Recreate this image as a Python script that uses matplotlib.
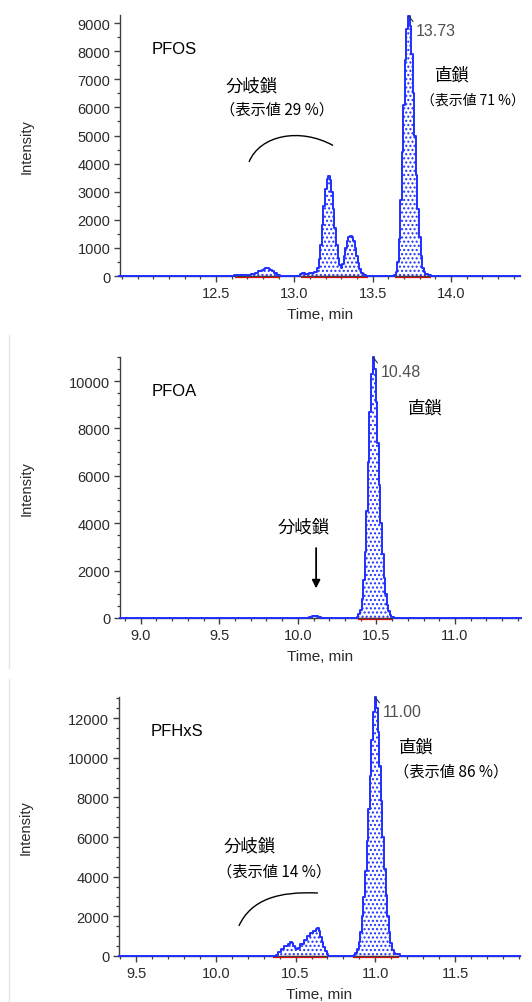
import matplotlib
matplotlib.use("Agg")
import matplotlib.pyplot as plt
from matplotlib.path import Path
from matplotlib.patches import PathPatch
from matplotlib.lines import Line2D
from matplotlib.ticker import MultipleLocator
from matplotlib.transforms import ScaledTranslation

plt.rcParams['font.family'] = ['Liberation Sans', 'Noto Sans CJK JP', 'DejaVu Sans']
plt.rcParams['hatch.color'] = '#1f2fff'
plt.rcParams['hatch.linewidth'] = 1.0

JP = ['Noto Sans CJK JP', 'Liberation Sans']

# ---- PFOS trace (time, min / intensity)
pfos_t = [11.88, 12.61, 12.62, 12.66, 12.70, 12.74, 12.76, 12.78, 12.80, 12.81, 12.82,
          12.83, 12.84, 12.85, 12.86, 12.88, 12.90, 12.92, 13.03, 13.04, 13.06, 13.08,
          13.10, 13.12, 13.13, 13.14, 13.15, 13.16, 13.17, 13.18, 13.19, 13.20, 13.21,
          13.22, 13.23, 13.24, 13.25, 13.26, 13.27, 13.28, 13.29, 13.30, 13.31, 13.32,
          13.33, 13.34, 13.35, 13.36, 13.37, 13.38, 13.39, 13.40, 13.41, 13.42, 13.43,
          13.44, 13.45, 13.46, 13.63, 13.64, 13.65, 13.66, 13.67, 13.68, 13.69, 13.70,
          13.71, 13.72, 13.73, 13.74, 13.75, 13.76, 13.77, 13.78, 13.79, 13.80, 13.81,
          13.82, 13.83, 13.84, 13.86, 13.88, 14.44]
pfos_i = [0, 0, 40, 50, 50, 60, 110, 180, 230, 260, 275,
          270, 250, 220, 170, 100, 40, 0, 0, 60, 90, 80,
          100, 120, 150, 160, 300, 600, 1100, 1800, 2500, 3100, 3450,
          3550, 3400, 3000, 2400, 1700, 1100, 650, 380, 300, 420, 700,
          1000, 1250, 1380, 1420, 1400, 1250, 1000, 700, 450, 250, 120,
          60, 20, 0, 0, 30, 150, 500, 1300, 2700, 4400, 6100,
          7700, 8800, 9250, 8900, 7900, 6500, 5000, 3600, 2400, 1400, 700,
          300, 130, 70, 40, 0, 0]
pfos_base = [(12.62, 12.91), (13.04, 13.47), (13.64, 13.87)]

# ---- PFOA trace
pfoa_t = [8.87, 10.06, 10.08, 10.10, 10.12, 10.14, 10.16, 10.37, 10.38, 10.39, 10.40,
          10.41, 10.42, 10.43, 10.44, 10.45, 10.46, 10.47, 10.48, 10.49, 10.50, 10.51,
          10.52, 10.53, 10.54, 10.55, 10.56, 10.57, 10.58, 10.59, 10.60, 10.62, 11.42]
pfoa_i = [0, 0, 50, 70, 70, 50, 0, 0, 60, 150, 350,
          800, 1600, 2800, 4500, 6600, 8700, 10300, 11000, 10500, 9100, 7400,
          5600, 4000, 2700, 1700, 1000, 550, 280, 120, 40, 0, 0]
pfoa_base = [(10.38, 10.60)]

# ---- PFHxS trace
pfhxs_t = [9.39, 10.37, 10.38, 10.40, 10.42, 10.44, 10.46, 10.47, 10.48, 10.49, 10.50,
           10.51, 10.52, 10.54, 10.56, 10.58, 10.60, 10.62, 10.63, 10.64, 10.65, 10.66,
           10.67, 10.68, 10.69, 10.70, 10.71, 10.86, 10.87, 10.88, 10.89, 10.90, 10.91,
           10.92, 10.93, 10.94, 10.95, 10.96, 10.97, 10.98, 10.99, 11.00, 11.01, 11.02,
           11.03, 11.04, 11.05, 11.06, 11.07, 11.08, 11.09, 11.10, 11.11, 11.12, 11.13,
           11.14, 11.15, 11.16, 11.91]
pfhxs_i = [0, 0, 60, 200, 350, 480, 620, 680, 640, 520, 420,
           350, 420, 600, 800, 1000, 1150, 1280, 1350, 1400, 1250, 950,
           700, 450, 250, 100, 0, 0, 60, 150, 350, 700, 1200,
           2000, 3000, 4300, 5800, 7400, 9100, 10900, 12300, 13050, 12500, 11300,
           9600, 7800, 6000, 4400, 3100, 2000, 1200, 650, 320, 150, 90,
           90, 80, 0, 0]
pfhxs_base = [(10.36, 10.70), (10.86, 11.15)]

panels = [
    dict(t=pfos_t, y=pfos_i, base=pfos_base, xlim=(11.887, 14.44), ylim=9290,
         xticks=(12.5, 14.0), ystep=1000, rect=[0.2256, 0.7238, 0.752, 0.2603],
         name='PFOS', peak=13.73, peak_lbl='13.73'),
    dict(t=pfoa_t, y=pfoa_i, base=pfoa_base, xlim=(8.868, 11.414), ylim=11020,
         xticks=(9.0, 11.0), ystep=2000, rect=[0.2256, 0.3829, 0.752, 0.2602],
         name='PFOA', peak=10.48, peak_lbl='10.48'),
    dict(t=pfhxs_t, y=pfhxs_i, base=pfhxs_base, xlim=(9.393, 11.907), ylim=13070,
         xticks=(9.5, 11.5), ystep=2000, rect=[0.2237, 0.0459, 0.7537, 0.2582],
         name='PFHxS', peak=11.00, peak_lbl='11.00'),
]

fig = plt.figure(figsize=(5.32, 10.03), dpi=100)
blue = '#1f2fff'
tickc = '#2a2a2a'
axes = []
for p in panels:
    ax = fig.add_axes(p['rect'])
    axes.append(ax)
    t, y = p['t'], p['y']
    ax.fill_between(t, y, 0, step='mid', facecolor='white', edgecolor=blue,
                    hatch='....', linewidth=0, zorder=1)
    ax.plot(t, y, drawstyle='steps-mid', color=blue, lw=1.4, zorder=3, clip_on=False)
    off = ax.transData + ScaledTranslation(0, -1.0 / 72, fig.dpi_scale_trans)
    for a, b in p['base']:
        ax.plot([a, b], [0, 0], color='red', lw=1.6, transform=off, zorder=2,
                solid_capstyle='butt', clip_on=False)
    ax.set_xlim(*p['xlim'])
    ax.set_ylim(0, p['ylim'])
    ax.xaxis.set_major_locator(MultipleLocator(0.5))
    ax.xaxis.set_minor_locator(MultipleLocator(0.1))
    ax.yaxis.set_major_locator(MultipleLocator(p['ystep']))
    ax.yaxis.set_minor_locator(MultipleLocator(500))
    lo, hi = p['xticks']
    ax.set_xticks([v for v in ax.get_xticks() if lo - 1e-6 <= v <= hi + 1e-6])
    ax.xaxis.set_major_formatter(plt.FuncFormatter(lambda v, pos: '%.1f' % v))
    for s in ('top', 'right'):
        ax.spines[s].set_visible(False)
    for s in ('left', 'bottom'):
        ax.spines[s].set_color('#404040')
        ax.spines[s].set_linewidth(1.0)
    ax.tick_params(which='major', direction='out', length=4, width=1.0,
                   color='#404040', labelsize=10.5, labelcolor=tickc, pad=3)
    ax.tick_params(which='minor', direction='out', length=2.5, width=0.9,
                   color='#404040')
    ax.set_xlabel('Time, min', fontsize=11, color=tickc, labelpad=5)
    ax.set_ylabel('Intensity', fontsize=10.5, color=tickc)
    ax.text(0.08, 0.87, p['name'], transform=ax.transAxes, fontsize=12,
            ha='left', va='center', color='black')
    ax.annotate(p['peak_lbl'], xy=(p['peak'], max(y)), xytext=(5, -5),
                textcoords='offset points', ha='left', va='top', fontsize=11.5,
                color='#505050',
                arrowprops=dict(arrowstyle='-', color='#303030', lw=0.8,
                                shrinkA=0, shrinkB=0, relpos=(0, 0.85)))

for ax in axes:
    ax.yaxis.set_label_coords(-0.215, 0.5)


def arc(ax, pts):
    codes = [Path.MOVETO, Path.CURVE4, Path.CURVE4, Path.CURVE4]
    ax.add_patch(PathPatch(Path(pts, codes), transform=ax.transAxes,
                           facecolor='none', edgecolor='black', lw=1.0))


# PFOS notes
ax = axes[0]
ax.text(0.265, 0.728, '分岐鎖', transform=ax.transAxes, fontsize=12.5,
        family=JP, ha='left', va='center')
ax.text(0.250, 0.64, '（表示値 29 %）', transform=ax.transAxes, fontsize=11,
        family=JP, ha='left', va='center')
ax.text(0.787, 0.77, '直鎖', transform=ax.transAxes, fontsize=12.5,
        family=JP, ha='left', va='center')
ax.text(0.752, 0.675, '（表示値 71 %）', transform=ax.transAxes, fontsize=10,
        family=JP, ha='left', va='center')
arc(ax, [(0.3225, 0.437), (0.35, 0.54), (0.45, 0.57), (0.5325, 0.50)])

# PFOA notes
ax = axes[1]
ax.text(0.72, 0.805, '直鎖', transform=ax.transAxes, fontsize=12.5,
        family=JP, ha='left', va='center')
ax.text(0.395, 0.35, '分岐鎖', transform=ax.transAxes, fontsize=12.5,
        family=JP, ha='left', va='center')
ax.annotate('', xy=(10.116, 1250), xytext=(10.116, 2950),
            arrowprops=dict(arrowstyle='-|>', color='black', lw=1.3,
                            mutation_scale=12, shrinkA=0, shrinkB=0))

# PFHxS notes
ax = axes[2]
ax.text(0.698, 0.807, '直鎖', transform=ax.transAxes, fontsize=12.5,
        family=JP, ha='left', va='center')
ax.text(0.685, 0.714, '（表示値 86 %）', transform=ax.transAxes, fontsize=11,
        family=JP, ha='left', va='center')
ax.text(0.26, 0.425, '分岐鎖', transform=ax.transAxes, fontsize=12.5,
        family=JP, ha='left', va='center')
ax.text(0.245, 0.328, '（表示値 14 %）', transform=ax.transAxes, fontsize=11,
        family=JP, ha='left', va='center')
arc(ax, [(0.299, 0.116), (0.33, 0.22), (0.40, 0.25), (0.496, 0.243)])

# faint screenshot borders
fig.add_artist(Line2D([0.017, 0.017], [0.333, 0.665], color='#e6e6e6', lw=1))
fig.add_artist(Line2D([0.017, 0.017], [0.0, 0.322], color='#e6e6e6', lw=1))

fig.savefig('out.png', dpi=100)
